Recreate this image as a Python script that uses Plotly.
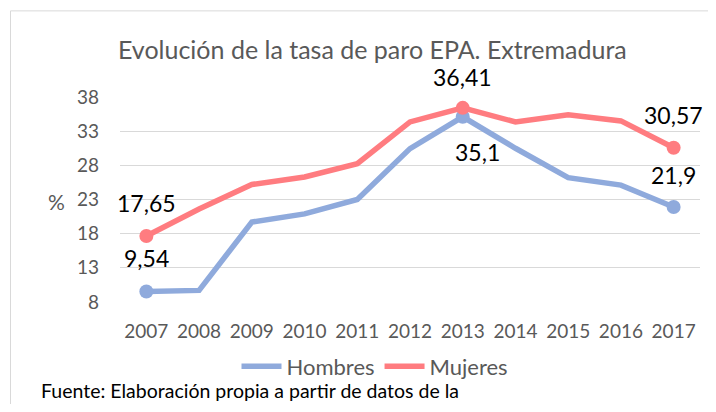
import plotly.graph_objects as go

years = ["2007", "2008", "2009", "2010", "2011", "2012", "2013", "2014", "2015", "2016", "2017"]
hombres = [9.54, 9.7, 19.7, 20.9, 23.0, 30.45, 35.1, 30.5, 26.2, 25.1, 21.9]
mujeres = [17.65, 21.6, 25.2, 26.3, 28.25, 34.35, 36.41, 34.35, 35.4, 34.5, 30.57]
y_ticks = [8, 13, 18, 23, 28, 33, 38]
labeled_idx = [0, 6, 10]

title = "Evolución de la tasa de paro EPA. Extremadura"
footer = "Fuente: Elaboración propia a partir de datos de la"

# page body has an 8px margin; the figure is sized to fit the 716x412 window
OFF = 8
W, H = 716 - 2 * OFF, 412 - 2 * OFF
# plot area in window pixels
PX0, PX1, PY0, PY1 = 120, 700, 97, 301.7
L = PX0 - OFF
R = W - (PX1 - OFF)
T = PY0 - OFF
B = H - (PY1 - OFF)
pw, ph = PX1 - PX0, PY1 - PY0

def px_x(px):
    return (px - PX0) / pw

def px_y(py):
    return (PY1 - py) / ph

FONT = "Lato"
BLUE = "#8FAADC"
RED = "#FF7C80"
GRAY = "#595959"

fig = go.Figure()
for name, vals, col in [("Hombres", hombres, BLUE), ("Mujeres", mujeres, RED)]:
    fig.add_trace(go.Scatter(x=list(range(len(years))), y=vals, name=name, mode="lines",
                             line=dict(color=col, width=5.5), hoverinfo="x+y"))
    fig.add_trace(go.Scatter(x=labeled_idx, y=[vals[i] for i in labeled_idx], mode="markers",
                             marker=dict(color=col, size=14, opacity=1, line=dict(width=0)),
                             showlegend=False, hoverinfo="skip"))

def fmt(v):
    return str(v).replace(".", ",")

anns = []
h_shift = {0: (0, 33), 6: (15, -35), 10: (0, 32)}
m_shift = {0: (0, 33), 6: (0, 31), 10: (0, 33)}
for i in labeled_idx:
    for vals, shifts in [(hombres, h_shift), (mujeres, m_shift)]:
        dx, dy = shifts[i]
        anns.append(dict(x=i, y=vals[i], xref="x", yref="y", text=fmt(vals[i]),
                         showarrow=False, xshift=dx, yshift=dy,
                         xanchor="center", yanchor="middle",
                         font=dict(family=FONT, size=23, color="#000000")))

anns.append(dict(x=px_x(372), y=px_y(49), xref="paper", yref="paper", text=title,
                 showarrow=False, xanchor="center", yanchor="middle",
                 font=dict(family=FONT, size=25, color=GRAY)))
anns.append(dict(x=px_x(56), y=px_y(201), xref="paper", yref="paper", text="%",
                 showarrow=False, xanchor="center", yanchor="middle",
                 font=dict(family=FONT, size=21, color=GRAY)))
anns.append(dict(x=px_x(40), y=px_y(390), xref="paper", yref="paper", text=footer,
                 showarrow=False, xanchor="left", yanchor="middle", borderpad=0,
                 font=dict(family=FONT, size=19.5, color="#000000")))

fig.update_layout(
    width=W, height=H,
    margin=dict(l=L, r=R, t=T, b=B, pad=0, autoexpand=False),
    paper_bgcolor="white", plot_bgcolor="white",
    font=dict(family=FONT, color=GRAY),
    showlegend=True,
    legend=dict(orientation="h", x=px_x(375), y=px_y(366), xanchor="center", yanchor="middle",
                font=dict(family=FONT, size=22, color=GRAY), itemwidth=40,
                bgcolor="rgba(0,0,0,0)"),
    annotations=anns,
    shapes=[dict(type="rect", xref="paper", yref="paper",
                 x0=px_x(10.5), x1=px_x(740), y0=px_y(440), y1=px_y(11),
                 line=dict(color="#D9D9D9", width=1), fillcolor="rgba(0,0,0,0)", layer="below")],
)
fig.update_xaxes(range=[-0.5, len(years) - 0.5], tickvals=list(range(len(years))), ticktext=years,
                 showgrid=False, showline=False, zeroline=False, ticks="", ticklabelstandoff=16,
                 automargin=False, tickfont=dict(family=FONT, size=19, color=GRAY))
fig.update_yaxes(range=[y_ticks[0], y_ticks[-1]], tickvals=y_ticks, showgrid=True,
                 gridcolor="#D9D9D9", gridwidth=1.3, showline=False, zeroline=False,
                 ticks="", ticklabelstandoff=20, automargin=False,
                 tickfont=dict(family=FONT, size=19, color=GRAY))

fig.write_html("out.html")
